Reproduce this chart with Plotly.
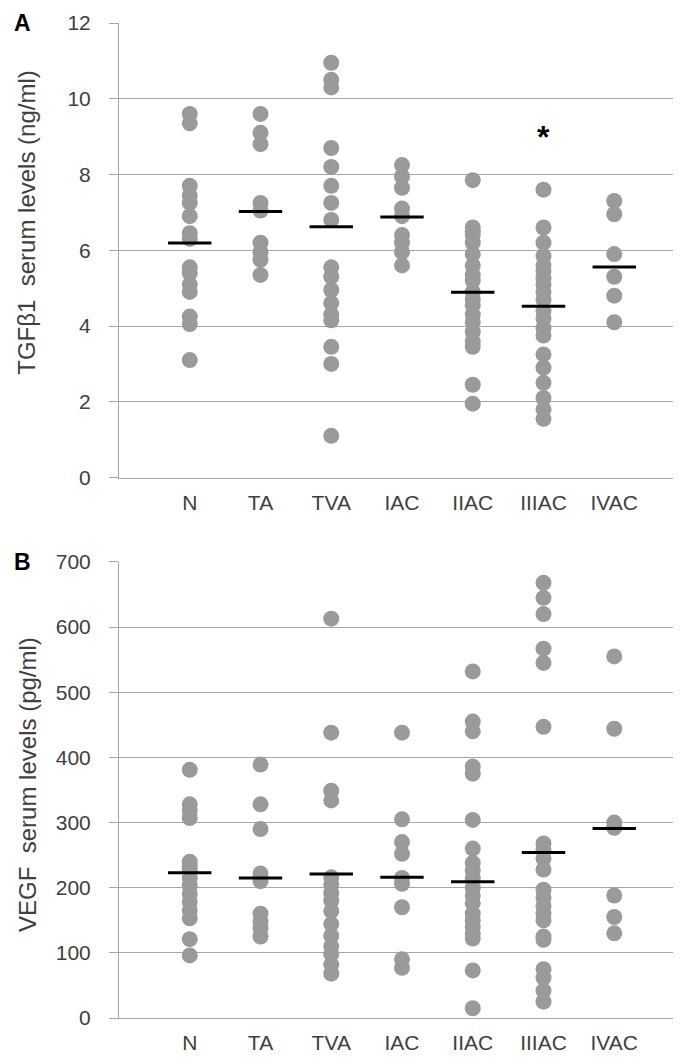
import plotly.graph_objects as go
from plotly.subplots import make_subplots

groups = ["N", "TA", "TVA", "IAC", "IIAC", "IIIAC", "IVAC"]

# Panel A: TGFβ1 (ng/ml)
tgf_n = [9.6, 9.35, 7.7, 7.45, 7.25, 6.9, 6.45, 6.3, 5.55, 5.4, 5.1, 4.9, 4.25, 4.05, 3.1]
tgf_ta = [9.6, 9.1, 8.8, 7.25, 7.05, 6.2, 5.95, 5.75, 5.35]
tgf_tva = [10.95, 10.5, 10.3, 8.7, 8.2, 7.7, 7.25, 6.8, 5.55, 5.3, 4.95, 4.6, 4.3, 4.15, 3.45, 3.0, 1.1]
tgf_iac = [8.25, 7.95, 7.65, 7.1, 6.9, 6.4, 6.2, 5.95, 5.6]
tgf_iiac = [7.85, 6.6, 6.5, 6.4, 6.2, 5.9, 5.6, 5.35, 5.2, 4.9, 4.7, 4.55, 4.3, 4.1, 3.85, 3.6, 3.45, 2.45, 1.95]
tgf_iiiac = [7.6, 6.6, 6.2, 5.85, 5.6, 5.45, 5.25, 5.1, 4.9, 4.7, 4.4, 4.2, 3.95, 3.75, 3.25, 2.9, 2.5, 2.1, 1.8, 1.55]
tgf_ivac = [7.3, 6.95, 5.9, 5.3, 4.8, 4.1]
tgf_means = [6.19, 7.02, 6.62, 6.88, 4.89, 4.52, 5.56]

# Panel B: VEGF (pg/ml)
vegf_n = [381, 328, 318, 307, 240, 233, 226, 215, 203, 190, 178, 165, 153, 121, 96]
vegf_ta = [389, 328, 290, 222, 210, 160, 148, 137, 125]
vegf_tva = [613, 438, 349, 334, 216, 205, 192, 180, 164, 144, 126, 110, 98, 82, 68]
vegf_iac = [438, 305, 270, 252, 215, 206, 170, 90, 77]
vegf_iiac = [532, 455, 440, 386, 375, 304, 260, 238, 226, 214, 200, 188, 176, 160, 150, 140, 130, 122, 73, 15]
vegf_iiiac = [668, 645, 620, 567, 545, 447, 268, 258, 245, 228, 197, 185, 172, 160, 150, 125, 120, 75, 62, 42, 25]
vegf_ivac = [555, 444, 300, 292, 188, 155, 130]
vegf_means = [223, 215, 221, 216, 209, 254, 291]

tgf_data = [tgf_n, tgf_ta, tgf_tva, tgf_iac, tgf_iiac, tgf_iiiac, tgf_ivac]
vegf_data = [vegf_n, vegf_ta, vegf_tva, vegf_iac, vegf_iiac, vegf_iiiac, vegf_ivac]

DOT = "#9a9a9a"
GRID = "#a6a6a6"
TXT = "#404040"
FONT = "Liberation Sans, Arial, sans-serif"

fig = make_subplots(rows=2, cols=1, vertical_spacing=0.085)

for row, data, means in [(1, tgf_data, tgf_means), (2, vegf_data, vegf_means)]:
    xs, ys = [], []
    for i, vals in enumerate(data):
        xs += [i + 1] * len(vals)
        ys += vals
    fig.add_trace(go.Scatter(x=xs, y=ys, mode="markers",
                             marker=dict(size=16, color=DOT),
                             showlegend=False, hoverinfo="y"), row=row, col=1)
    fig.add_trace(go.Scatter(x=list(range(1, 8)), y=means, mode="markers",
                             marker=dict(symbol="line-ew", size=31,
                                         line=dict(width=3, color="black")),
                             showlegend=False, hoverinfo="y"), row=row, col=1)

fig.update_xaxes(range=[0, 8], tickvals=list(range(1, 8)), ticktext=groups,
                 showgrid=False, zeroline=False, showline=True, linecolor=GRID,
                 ticks="", ticklabelstandoff=6,
                 tickfont=dict(size=21, color=TXT, family=FONT))
fig.update_yaxes(showgrid=True, gridcolor=GRID, gridwidth=1, zeroline=False,
                 showline=True, linecolor=GRID, ticks="outside", ticklen=9,
                 tickcolor=GRID, ticklabelstandoff=14,
                 tickfont=dict(size=21, color=TXT, family=FONT))
fig.update_yaxes(range=[0, 12], dtick=2, row=1, col=1)
fig.update_yaxes(range=[0, 700], dtick=100, row=2, col=1)

title_font = dict(size=24, color=TXT, family=FONT)
fig.update_layout(
    width=681, height=1057,
    margin=dict(l=111, r=4, t=15, b=47),
    plot_bgcolor="white", paper_bgcolor="white",
    yaxis=dict(domain=[0.5432, 1.0]),
    yaxis2=dict(domain=[0.0, 0.4583]),
    annotations=[
        dict(text="TGFβ1  serum levels (ng/ml)", xref="paper", yref="paper",
             x=-0.163, y=0.80, textangle=-90, xanchor="center", yanchor="middle",
             showarrow=False, font=title_font),
        dict(text="VEGF  serum levels (pg/ml)", xref="paper", yref="paper",
             x=-0.163, y=0.235, textangle=-90, xanchor="center", yanchor="middle",
             showarrow=False, font=title_font),
        dict(text="<b>A</b>", xref="paper", yref="paper", x=-0.17, y=1.0,
             xanchor="center", yanchor="middle", showarrow=False,
             font=dict(size=23, color="black", family=FONT)),
        dict(text="<b>B</b>", xref="paper", yref="paper", x=-0.17, y=0.4583,
             xanchor="center", yanchor="middle", showarrow=False,
             font=dict(size=23, color="black", family=FONT)),
        dict(text="<b>*</b>", xref="x", yref="y", x=6, y=9.0,
             showarrow=False, font=dict(size=32, color="black", family=FONT)),
    ],
)

fig.write_html("out.html")
